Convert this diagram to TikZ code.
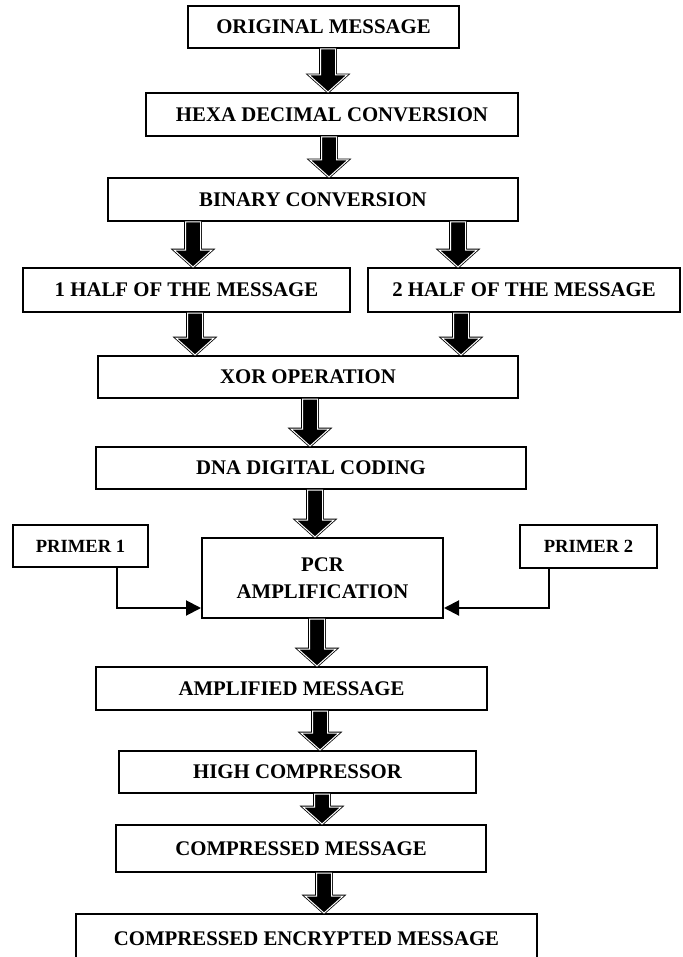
\documentclass[tikz,border=0pt]{standalone}
\usepackage{fontspec}
\setmainfont{Liberation Serif}
\usepackage{tikz}
\usetikzlibrary{arrows.meta,calc}

\newcommand{\blockarrow}[3]{%
	\coordinate (s) at (#1,0 |- #2.south);
	\coordinate (t) at (#1,0 |- #3.north);
	\draw[fat] ($(s)+(-7.5,0)$) -- ($(s)+(7.5,0)$) -- ($(t)+(7.5,-17)$) -- ($(t)+(19,-17)$) -- (t) -- ($(t)+(-19,-17)$) -- ($(t)+(-7.5,-17)$) -- cycle;
}

\begin{document}
\begin{tikzpicture}[x = 0.5pt, y = -0.5pt,
	box/.style = {draw, line width = 1pt, inner sep = 0pt, align = center, font = \fontsize{10.4}{13.5}\selectfont\bfseries},
	small/.style = {box, font = \fontsize{9.3}{12}\selectfont\bfseries},
	fat/.style = {draw = black, line width = 0.4pt, double = white, double distance = 0.5pt, fill = black, line join = miter},
	feed/.style = {line width = 1pt, -{Triangle[length = 7.5pt, width = 7.5pt]}}]
			\useasboundingbox (0,0) rectangle (683,957);
			\node (orig) at (323.5,27) [box, minimum width = 135.5pt, minimum height = 21pt] {ORIGINAL MESSAGE};
			\node (hexa) at (332,114.5) [box, minimum width = 186pt, minimum height = 21.5pt] {HEXA DECIMAL CONVERSION};
			\node (bin) at (313,199.5) [box, minimum width = 205pt, minimum height = 21.5pt] {BINARY CONVERSION};
			\node (half1) at (186.5,290) [box, minimum width = 163.5pt, minimum height = 22pt] {1 HALF OF THE MESSAGE};
			\node (half2) at (524,290) [box, minimum width = 156pt, minimum height = 22pt] {2 HALF OF THE MESSAGE};
			\node (xor) at (308,377) [box, minimum width = 210pt, minimum height = 21pt] {XOR OPERATION};
			\node (dna) at (311,468) [box, minimum width = 215pt, minimum height = 21pt] {DNA DIGITAL CODING};
			\node (primer1) at (80.5,546) [small, minimum width = 67.5pt, minimum height = 21pt] {PRIMER 1};
			\node (pcr) at (322.5,578) [box, minimum width = 120.5pt, minimum height = 40pt] {PCR\\AMPLIFICATION};
			\node (primer2) at (588.5,546.5) [small, minimum width = 68.5pt, minimum height = 21.5pt] {PRIMER 2};
			\node (ampl) at (291.5,688.5) [box, minimum width = 195.5pt, minimum height = 21.5pt] {AMPLIFIED MESSAGE};
			\node (high) at (297.5,772) [box, minimum width = 178.5pt, minimum height = 21pt] {HIGH COMPRESSOR};
			\node (comp) at (301,848.5) [box, minimum width = 185pt, minimum height = 23.5pt] {COMPRESSED MESSAGE};
			\node (enc) at (306.5,939) [box, minimum width = 230.5pt, minimum height = 25pt] {COMPRESSED ENCRYPTED MESSAGE};
			\blockarrow{328}{orig}{hexa}
			\blockarrow{329}{hexa}{bin}
			\blockarrow{193}{bin}{half1}
			\blockarrow{458}{bin}{half2}
			\blockarrow{195}{half1}{xor}
			\blockarrow{461}{half2}{xor}
			\blockarrow{310}{xor}{dna}
			\blockarrow{315}{dna}{pcr}
			\blockarrow{317}{pcr}{ampl}
			\blockarrow{320}{ampl}{high}
			\blockarrow{322}{high}{comp}
			\blockarrow{324}{comp}{enc}
			\draw[feed] ([xshift = 18.25pt]primer1.south) |- ([yshift = -15pt]pcr.west);
			\draw[feed] ([xshift = -19.75pt]primer2.south) |- ([yshift = -15pt]pcr.east);
\end{tikzpicture}
\end{document}
